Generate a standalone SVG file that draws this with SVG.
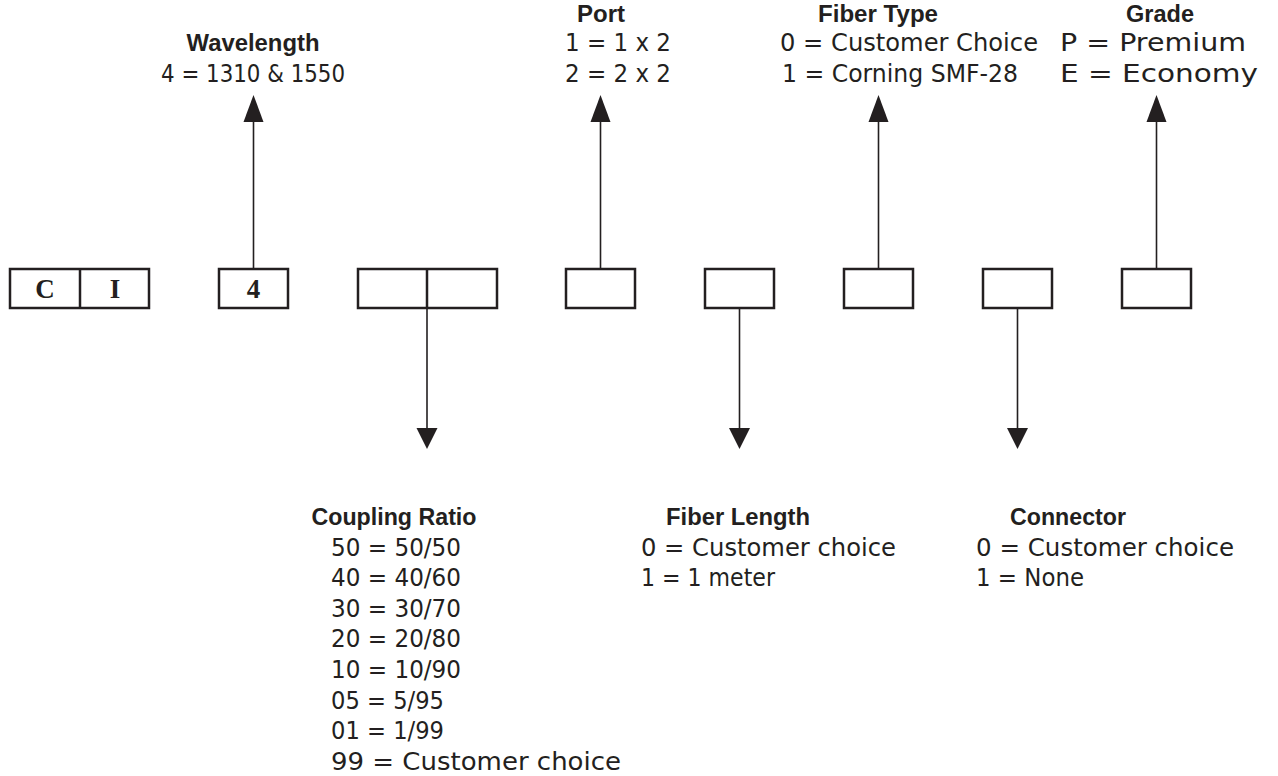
<svg xmlns="http://www.w3.org/2000/svg" width="1278" height="776" viewBox="0 0 1278 776">
<style>
.box{fill:#fff;stroke:#231f20;stroke-width:2.5}
.ln{stroke:#231f20;stroke-width:1.6;fill:none}
.ah{fill:#231f20}
.h{font-family:"Liberation Sans",Arial,sans-serif;font-weight:bold;font-size:24px;fill:#231f20;text-anchor:middle}
.t{font-family:"DejaVu Sans",sans-serif;font-size:25px;fill:#231f20}
.bt{font-family:"Liberation Serif",serif;font-weight:bold;font-size:27px;fill:#231f20;text-anchor:middle}
</style>
<rect width="1278" height="776" fill="#fff"/>
<g id="connectors">
<line class="ln" x1="253.5" y1="269" x2="253.5" y2="120"/><polygon class="ah" points="253.5,95 243.5,122 263.5,122"/>
<line class="ln" x1="600.5" y1="269" x2="600.5" y2="120"/><polygon class="ah" points="600.5,95 590.5,122 610.5,122"/>
<line class="ln" x1="878.5" y1="269" x2="878.5" y2="120"/><polygon class="ah" points="878.5,95 868.5,122 888.5,122"/>
<line class="ln" x1="1156.5" y1="269" x2="1156.5" y2="120"/><polygon class="ah" points="1156.5,95 1146.5,122 1166.5,122"/>
<line class="ln" x1="427" y1="308" x2="427" y2="430"/><polygon class="ah" points="427,449 416.5,428 437.5,428"/>
<line class="ln" x1="739.5" y1="308" x2="739.5" y2="430"/><polygon class="ah" points="739.5,449 729,428 750,428"/>
<line class="ln" x1="1017.5" y1="308" x2="1017.5" y2="430"/><polygon class="ah" points="1017.5,449 1007,428 1028,428"/>
</g>
<g id="box-ci">
<rect class="box" x="10" y="269" width="139" height="39"/>
<line class="box" x1="80" y1="269" x2="80" y2="308"/>
<text class="bt" x="45" y="298">C</text>
<text class="bt" x="115" y="298">I</text>
</g>
<g id="box-wavelength">
<rect class="box" x="219" y="269" width="69" height="39"/>
<text class="bt" x="253.5" y="298">4</text>
</g>
<g id="box-coupling">
<rect class="box" x="358" y="269" width="139" height="39"/>
<line class="box" x1="427" y1="269" x2="427" y2="308"/>
</g>
<g id="box-port"><rect class="box" x="566" y="269" width="69" height="39"/></g>
<g id="box-length"><rect class="box" x="705" y="269" width="69" height="39"/></g>
<g id="box-type"><rect class="box" x="844" y="269" width="69" height="39"/></g>
<g id="box-connector"><rect class="box" x="983" y="269" width="69" height="39"/></g>
<g id="box-grade"><rect class="box" x="1122" y="269" width="69" height="39"/></g>
<g id="label-wavelength">
<text class="h" x="253" y="51" textLength="133" lengthAdjust="spacingAndGlyphs">Wavelength</text>
<text class="t" x="253" y="82" text-anchor="middle" textLength="184" lengthAdjust="spacingAndGlyphs">4 = 1310 &amp; 1550</text>
</g>
<g id="label-port">
<text class="h" x="601" y="22" textLength="48" lengthAdjust="spacingAndGlyphs">Port</text>
<text class="t" x="565" y="51" textLength="106" lengthAdjust="spacingAndGlyphs">1 = 1 x 2</text>
<text class="t" x="565" y="82" textLength="106" lengthAdjust="spacingAndGlyphs">2 = 2 x 2</text>
</g>
<g id="label-type">
<text class="h" x="878" y="22" textLength="120" lengthAdjust="spacingAndGlyphs">Fiber Type</text>
<text class="t" x="780" y="51" textLength="258" lengthAdjust="spacingAndGlyphs">0 = Customer Choice</text>
<text class="t" x="782" y="82" textLength="236" lengthAdjust="spacingAndGlyphs">1 = Corning SMF-28</text>
</g>
<g id="label-grade">
<text class="h" x="1160" y="22" textLength="68" lengthAdjust="spacingAndGlyphs">Grade</text>
<text class="t" x="1060" y="51" textLength="186" lengthAdjust="spacingAndGlyphs">P = Premium</text>
<text class="t" x="1060" y="82" textLength="198" lengthAdjust="spacingAndGlyphs">E = Economy</text>
</g>
<g id="label-coupling">
<text class="h" x="394" y="525" textLength="165" lengthAdjust="spacingAndGlyphs">Coupling Ratio</text>
<text class="t" x="331" y="556" textLength="130" lengthAdjust="spacingAndGlyphs">50 = 50/50</text>
<text class="t" x="331" y="586" textLength="130" lengthAdjust="spacingAndGlyphs">40 = 40/60</text>
<text class="t" x="331" y="617" textLength="130" lengthAdjust="spacingAndGlyphs">30 = 30/70</text>
<text class="t" x="331" y="647" textLength="130" lengthAdjust="spacingAndGlyphs">20 = 20/80</text>
<text class="t" x="331" y="678" textLength="130" lengthAdjust="spacingAndGlyphs">10 = 10/90</text>
<text class="t" x="331" y="709" textLength="113" lengthAdjust="spacingAndGlyphs">05 = 5/95</text>
<text class="t" x="331" y="739" textLength="113" lengthAdjust="spacingAndGlyphs">01 = 1/99</text>
<text class="t" x="331" y="770" textLength="290" lengthAdjust="spacingAndGlyphs">99 = Customer choice</text>
</g>
<g id="label-length">
<text class="h" x="738" y="525" textLength="144" lengthAdjust="spacingAndGlyphs">Fiber Length</text>
<text class="t" x="641" y="556" textLength="255" lengthAdjust="spacingAndGlyphs">0 = Customer choice</text>
<text class="t" x="641" y="586" textLength="134" lengthAdjust="spacingAndGlyphs">1 = 1 meter</text>
</g>
<g id="label-connector">
<text class="h" x="1068" y="525" textLength="116" lengthAdjust="spacingAndGlyphs">Connector</text>
<text class="t" x="976" y="556" textLength="258" lengthAdjust="spacingAndGlyphs">0 = Customer choice</text>
<text class="t" x="976" y="586" textLength="108" lengthAdjust="spacingAndGlyphs">1 = None</text>
</g>
</svg>
